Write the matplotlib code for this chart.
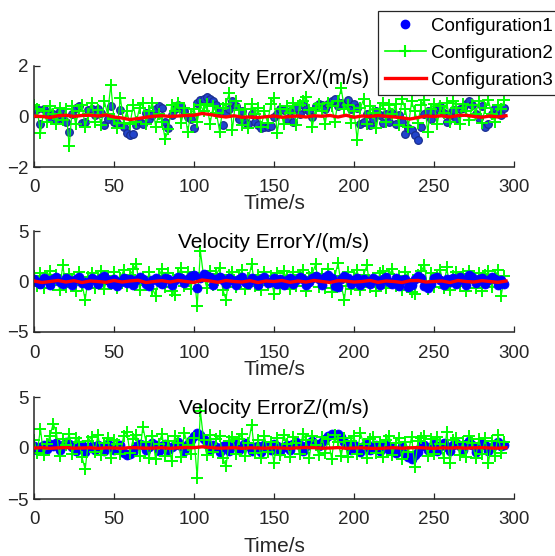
import numpy as np
import matplotlib.pyplot as plt
from matplotlib.lines import Line2D

plt.rcParams['font.family'] = ['Liberation Sans', 'DejaVu Sans']

# sample times (s)
t = np.arange(0, 296, 2)
t_ref = np.arange(0, 300, 5)

# Velocity error X, m/s
vx_c1 = [0.25, 0.28, -0.30, 0.30, 0.15, -0.05, 0.10, -0.15, 0.20, -0.10,
         -0.20, -0.62, 0.10, 0.35, 0.40, -0.25, -0.20, 0.25, 0.30, 0.05,
         0.30, 0.15, -0.35, -0.10, 0.40, -0.20, -0.25, 0.25, -0.40, -0.65,
         -0.75, -0.70, -0.35, -0.20, -0.30, 0.15, -0.10, 0.05, 0.30, 0.40,
         0.35, -0.20, -0.45, 0.05, 0.30, 0.45, 0.40, 0.20, 0.00, -0.10,
         -0.46, 0.55, 0.65, 0.70, 0.79, 0.70, 0.60, 0.45, 0.20, -0.33,
         0.15, 0.30, 0.63, 0.40, -0.10, 0.20, -0.20, -0.30, 0.10, -0.20,
         -0.35, -0.45, -0.40, -0.42, -0.38, 0.00, 0.10, 0.30, 0.25, -0.10,
         0.20, -0.20, 0.35, 0.10, 0.45, 0.30, 0.20, 0.00, 0.40, 0.50,
         0.45, 0.30, 0.50, 0.60, 0.68, 0.40, 0.55, 0.45, 0.66, 0.30,
         0.50, 0.35, -0.30, -0.20, 0.10, -0.35, -0.10, 0.20, 0.05, -0.25,
         0.10, -0.20, 0.15, -0.30, 0.05, -0.20, -0.70, -0.45, -0.53, -0.75,
         -0.92, -0.40, 0.10, 0.20, -0.10, 0.20, 0.35, 0.42, 0.15, -0.20,
         0.05, 0.25, -0.10, 0.30, 0.35, 0.50, 0.63, 0.45, 0.10, -0.05,
         0.40, -0.43, -0.30, 0.10, 0.35, 0.15, 0.05, 0.33]
vx_c2 = [0.45, 0.30, -0.66, 0.20, -0.20, 0.40, 0.10, -0.30, 0.35, -0.15,
         0.30, -1.18, 0.40, -0.30, 0.20, 0.45, -0.40, 0.10, 0.55, -0.20,
         0.25, -0.35, 0.60, 0.10, 1.25, -0.10, -0.45, 0.75, -0.25, 0.20,
         -0.30, 0.45, -0.20, 0.35, 0.55, -0.30, 0.20, 0.55, -0.40, 0.10,
         -0.20, -0.90, -0.50, 0.45, 0.20, 0.55, -0.25, 0.35, -0.62, 0.10,
         0.30, -0.20, 0.45, 0.20, 0.50, -0.30, 0.40, 0.15, -0.60, 0.35,
         0.50, 0.92, -0.53, 0.60, 0.25, -0.35, 0.30, -0.45, 0.50, 0.10,
         0.35, -0.40, 0.20, -0.25, 0.50, 0.72, -0.66, 0.30, -0.30, 0.40,
         0.15, 0.55, -0.35, 0.45, 0.60, 0.79, 0.25, -0.40, 0.35, 0.50,
         0.20, -0.30, 0.55, 0.40, -0.20, 0.60, 1.12, 0.30, 0.45, -0.25,
         0.20, -0.92, 0.35, 0.68, -0.30, 0.40, 0.15, -0.45, 0.30, 0.55,
         -0.20, 0.45, 0.10, 0.50, -0.35, 0.68, 0.30, -0.40, 0.60, 0.20,
         -0.25, 0.45, 0.66, -0.60, 0.30, 0.50, -0.30, 0.40, 0.15, 0.55,
         -0.20, 0.62, 0.35, -0.30, 0.50, 0.20, -0.15, 0.45, 0.10, 0.60,
         -0.25, 0.35, 0.66, 0.10, -0.20, 0.45, 0.30, 0.66]
vx_c3 = [0.02, 0.00, -0.04, 0.03, 0.05, 0.00, 0.04, 0.05, 0.02, 0.06,
         -0.02, -0.06, -0.12, -0.08, -0.03, 0.01, 0.03, 0.00, 0.02, 0.04,
         0.05, 0.12, 0.08, 0.02, -0.02, 0.03, -0.03, -0.02, -0.04, -0.01,
         0.02, -0.03, 0.00, 0.02, -0.02, 0.03, 0.01, 0.04, -0.02, 0.05,
         -0.03, 0.02, 0.00, 0.04, 0.01, -0.02, -0.05, -0.10, -0.04, 0.02,
         0.00, 0.03, -0.02, 0.04, 0.05, 0.00, -0.03, 0.02, -0.02, 0.03]

# Velocity error Y, m/s
vy_c1 = [0.2, 0.0, -0.2, 0.3, 0.1, -0.3, 0.2, 0.4, 0.0, -0.2,
         0.3, 0.1, -0.3, 0.2, 0.4, -0.1, 0.0, -0.3, 0.3, 0.1,
         -0.2, 0.3, 0.5, 0.1, -0.2, 0.2, -0.4, 0.0, 0.3, -0.1,
         0.2, -0.3, 0.1, 0.4, 0.2, -0.2, -0.4, 0.1, 0.3, 0.0,
         -0.2, 0.3, 0.2, -0.3, 0.1, 0.4, 0.3, -0.1, 0.2, 0.5,
         0.6, -0.6, 0.3, 0.7, 0.5, 0.4, -0.3, 0.2, 0.4, 0.1,
         -0.2, 0.3, 0.1, -0.3, 0.2, 0.4, 0.0, -0.2, 0.3, 0.1,
         -0.3, 0.2, 0.4, -0.1, 0.0, 0.3, -0.2, 0.2, -0.3, 0.1,
         0.3, -0.2, 0.1, 0.4, 0.2, -0.3, 0.0, 0.3, 0.5, 0.2,
         -0.3, 0.4, 0.6, 0.3, -0.4, -0.5, 0.2, 0.5, 0.3, -0.2,
         0.1, 0.3, -0.3, 0.2, 0.0, -0.2, 0.3, 0.1, -0.3, 0.2,
         0.4, 0.0, -0.2, 0.3, -0.4, 0.1, 0.2, -0.5, -0.3, 0.2,
         0.5, 0.3, -0.4, -0.6, -0.2, 0.3, 0.4, 0.1, -0.3, 0.2,
         0.0, 0.3, -0.2, 0.4, 0.1, -0.3, 0.6, 0.4, -0.1, 0.2,
         0.3, -0.2, 0.1, 0.4, 0.2, -0.3, 0.1, -0.2]
vy_c2 = [0.5, -0.4, 0.8, -0.6, 0.3, 1.0, -0.3, 0.6, -0.8, 1.6,
         -0.5, 0.7, 0.2, -0.9, 0.9, -0.3, -1.8, 0.4, 0.8, -0.6,
         0.3, 1.0, -0.7, 0.5, -0.2, 0.9, -0.6, 0.3, 1.1, -0.4,
         0.6, 1.2, 1.7, -0.8, 0.4, -0.3, 0.9, -0.7, -1.4, 0.5,
         1.2, -0.5, 0.8, -0.9, -1.3, 0.6, 1.3, -0.4, 0.9, -0.7,
         0.8, -2.4, 3.0, 0.5, -0.6, 1.0, -0.3, 0.7, 1.3, -0.8,
         -1.8, 0.6, 0.9, -0.5, 0.4, 1.1, -0.7, 0.3, 1.7, -0.4,
         0.6, -0.8, 0.9, -0.3, 0.5, -1.2, 0.8, -0.6, 1.0, 0.3,
         -0.7, 0.9, -0.4, 0.6, 1.1, -0.9, 0.4, 0.8, 1.7, -0.5,
         0.7, -0.6, 1.2, -1.0, 0.5, 1.85, -0.4, -1.8, 0.9, -0.7,
         0.4, 1.1, -0.8, 0.6, 1.6, -0.5, 0.3, -0.9, 0.8, 1.0,
         -0.6, 0.7, 1.2, -0.4, 0.5, -0.8, 0.9, 0.2, -1.0, -1.2,
         0.6, 1.0, 1.65, -0.7, 0.8, -0.5, 0.4, 1.1, -0.6, 1.4,
         -0.8, 0.5, 0.9, -0.4, 0.7, -0.9, 1.0, 0.3, -0.6, 0.8,
         -0.9, 0.6, 1.0, -0.5, 0.4, 1.1, -1.4, 0.5]
vy_c3 = [0.05, -0.10, 0.00, 0.10, -0.05, 0.08, -0.10, 0.05, 0.00, -0.08,
         0.10, -0.05, 0.05, 0.12, -0.10, 0.00, 0.08, -0.05, 0.10, 0.00,
         -0.10, 0.15, 0.05, -0.08, 0.10, 0.00, -0.05, 0.08, -0.10, 0.05,
         0.00, 0.10, -0.08, 0.05, -0.05, 0.10, 0.00, -0.10, 0.08, 0.05,
         -0.05, 0.00, 0.10, -0.08, 0.05, 0.00, -0.10, 0.08, 0.10, -0.05,
         0.00, 0.05, -0.10, 0.10, 0.00, -0.05, 0.08, 0.00, -0.08, 0.05]

# Velocity error Z, m/s
vz_c1 = [0.2, -0.2, 0.1, 0.3, -0.1, 0.4, 0.2, 0.5, -0.2, 0.3,
         0.6, 0.4, 0.1, -0.3, 0.2, 0.3, -0.4, 0.1, 0.2, -0.2,
         0.3, 0.1, -0.3, 0.4, 0.2, -0.2, 0.1, 0.3, -0.5, -0.7,
         -0.6, -0.4, 0.2, 0.4, 0.3, -0.2, 0.1, 0.5, 0.3, -0.3,
         0.2, 0.4, -0.2, 0.1, 0.3, 0.6, 0.2, -0.3, 0.4, 0.8,
         1.2, 1.5, 1.3, 0.9, 0.4, -0.2, 0.3, 0.1, -0.4, 0.2,
         0.3, -0.3, 0.2, 0.4, -0.2, 0.1, 0.5, 0.2, -0.3, 0.1,
         0.2, -0.4, 0.3, 0.1, -0.2, 0.4, 0.2, -0.3, 0.1, 0.3,
         -0.2, 0.4, 0.6, 0.3, -0.3, 0.2, 0.5, 0.7, 0.4, 0.2,
         0.6, 0.9, 1.2, 1.4, 1.3, 1.4, 1.1, 0.6, 0.3, -0.2,
         0.3, 0.1, -0.4, 0.2, 0.4, -0.2, 0.1, 0.3, -0.3, 0.2,
         0.4, -0.2, 0.1, -0.5, -0.3, 0.2, -0.6, -0.9, -1.1, -0.7,
         -0.4, 0.2, 0.3, -0.2, 0.1, 0.4, -0.3, 0.2, 0.5, 0.1,
         -0.3, 0.3, 0.5, 0.2, -0.2, 0.4, 0.7, 0.3, -0.4, 0.2,
         0.5, 0.3, -0.3, 0.1, 0.4, 0.6, 0.2, 0.3]
vz_c2 = [0.8, -0.5, 1.9, -0.7, 0.4, 1.2, 2.4, 1.5, -0.8, 0.9,
         0.3, 1.4, -0.6, 1.0, 0.6, -0.9, -2.1, 0.7, 1.1, -0.4,
         1.3, -0.7, 0.5, 1.0, -1.0, 0.8, 0.4, -0.6, 1.2, 1.6,
         -0.5, 0.9, 1.3, -0.8, 2.1, 0.6, -1.0, 1.2, -1.1, 0.4,
         1.4, -0.8, 0.7, -1.3, 1.2, 0.5, -0.9, 1.5, 0.3, -0.6,
         1.0, -2.9, 3.6, 0.8, -0.7, 1.3, -0.4, 0.9, 1.2, -1.0,
         -1.8, 0.7, 1.1, -0.6, 0.9, 1.4, -0.8, 0.5, 2.25, -0.5,
         0.8, -1.0, 1.2, -0.4, 0.6, -1.5, 1.0, -0.7, 1.3, 0.4,
         -0.9, 1.1, 0.5, -0.6, 1.4, 0.8, -1.0, 1.2, 0.3, -0.7,
         1.1, -0.5, 0.9, -1.1, 1.3, 0.6, -0.8, 1.0, -0.9, 0.7,
         1.2, -0.6, 1.5, 0.4, -1.0, 0.9, 1.1, -0.5, 0.6, -0.9,
         0.8, 1.2, -0.7, 0.5, 1.0, -1.1, 0.6, -0.4, 1.1, -1.9,
         0.7, 1.0, 1.2, -0.8, 0.9, -0.6, 1.1, 0.4, -1.0, 1.6,
         -1.5, 0.8, 1.0, -0.7, 0.6, -0.9, 1.2, 0.5, -1.0, 0.9,
         -0.6, 1.0, -1.5, 0.7, -0.8, 1.3, -0.5, 0.6]
vz_c3 = [0.00, 0.03, -0.03, 0.02, 0.04, -0.02, 0.00, 0.03, -0.04, 0.02,
         0.00, -0.03, 0.04, 0.02, -0.02, 0.00, 0.03, -0.03, 0.02, 0.05,
         0.03, 0.12, 0.05, -0.02, 0.00, 0.03, -0.03, 0.02, 0.00, -0.02,
         0.03, 0.00, -0.03, 0.02, 0.05, 0.03, -0.02, 0.00, 0.04, -0.03,
         0.00, 0.02, -0.03, -0.05, 0.00, 0.03, -0.02, 0.02, 0.04, 0.00,
         -0.03, 0.02, 0.00, 0.03, -0.02, 0.02, 0.04, 0.00, -0.02, 0.03]

titles = ['Velocity ErrorX/(m/s)', 'Velocity ErrorY/(m/s)', 'Velocity ErrorZ/(m/s)']
labels = ['Configuration1', 'Configuration2', 'Configuration3']
ylims = [2, 5, 5]
xticks = [0, 50, 100, 150, 200, 250, 300]

data = [(vx_c1, vx_c2, vx_c3), (vy_c1, vy_c2, vy_c3), (vz_c1, vz_c2, vz_c3)]

W, H = 555, 556
fig = plt.figure(figsize=(W / 100, H / 100), dpi=100)

# axes boxes in pixels: (top, bottom)
boxes = [(66, 167), (231, 332), (397, 499)]
xlab_y = [-0.27, -0.28, -0.37]
blue_z = [2, 2.5, 2]   # in the Y panel the dots sit over the green crosses
axc = '#262626'

axes = []
for k, (top, bot) in enumerate(boxes):
    ax = fig.add_axes([34 / W, 1 - bot / H, 480 / W, (bot - top) / H])
    c1, c2, c3 = data[k]
    if k == 0:
        ax.plot(t, c1, 'o', ms=5.5, mfc='#2244cc', mec='#1a2f8f', mew=0.9,
                zorder=blue_z[k])
    else:
        ax.plot(t, c1, 'o', ms=6.5, mfc='#0000ff', mec='#0000ff', mew=0.5,
                zorder=blue_z[k])
    ax.plot(t, c2, '-+', color='#00ff00', lw=0.9, ms=8, mew=1.4, zorder=2.2)
    ax.plot(t_ref, c3, '-', color='#ff0000', lw=2.4, zorder=3)

    ax.set_xlim(0, 300)
    ax.set_ylim(-ylims[k], ylims[k])
    ax.set_xticks(xticks)
    ax.set_yticks([-ylims[k], 0, ylims[k]])
    for s in ['top', 'right']:
        ax.spines[s].set_visible(False)
    for s in ['left', 'bottom']:
        ax.spines[s].set_linewidth(1.1)
        ax.spines[s].set_color(axc)
    ax.tick_params(direction='in', length=4.5, width=0.9, color=axc,
                   labelcolor=axc, labelsize=13.5)
    ax.tick_params(axis='x', pad=9)
    ax.tick_params(axis='y', pad=4)
    ax.set_xlabel('Time/s', fontsize=15, color=axc)
    ax.xaxis.set_label_coords(0.5, xlab_y[k])
    ax.text(0.5, 1 - 12 / (bot - top), titles[k], transform=ax.transAxes,
            ha='center', va='center', fontsize=15, color='#000000', zorder=10)
    axes.append(ax)

handles = [Line2D([], [], ls='none', marker='o', ms=6, mfc='#0000ff', mec='#0000ff'),
           Line2D([], [], ls='-', marker='+', color='#00ff00', lw=1.2, ms=9, mew=1.5),
           Line2D([], [], ls='-', color='#ff0000', lw=2.4)]
leg = axes[0].legend(handles, labels, loc='upper left',
                     bbox_to_anchor=(378 / W, 1 - 11 / H),
                     bbox_transform=fig.transFigure, fontsize=13.5,
                     frameon=True, fancybox=False, framealpha=1,
                     edgecolor=axc, handlelength=2.2, handletextpad=0.25,
                     borderpad=0.35, labelspacing=0.53, borderaxespad=0)
leg.get_frame().set_linewidth(0.9)
leg.set_zorder(20)

fig.savefig('out.png', dpi=100)
